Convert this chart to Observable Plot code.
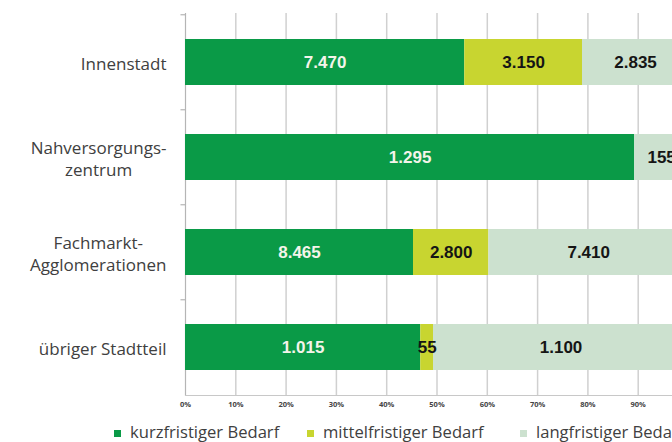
<!DOCTYPE html>
<html>
<head>
<meta charset="utf-8">
<script src="https://cdn.jsdelivr.net/npm/d3@7"></script>
<script src="https://cdn.jsdelivr.net/npm/@observablehq/plot@0.6"></script>
<style>
  html, body { margin: 0; padding: 0; background: #fff; overflow: hidden; }
  #wrap { position: relative; width: 720px; height: 442px; }
  #legend { position: absolute; top: 421px; left: 0; width: 720px; height: 22px;
            font-family: "Open Sans", "Noto Sans", sans-serif; font-size: 16.6px; color: #404040; }
  .item { position: absolute; top: 0; white-space: nowrap; line-height: 22px; }
  .sw { display: inline-block; width: 7px; height: 7px; margin-right: 9px; vertical-align: 1px; }
</style>
</head>
<body>
<div id="wrap"><div id="chart"></div><div id="legend"></div></div>
<script>
const categories = ["Innenstadt", "Nahversorgungs-\nzentrum", "Fachmarkt-\nAgglomerationen", "übriger Stadtteil"];
const series = ["kurzfristiger Bedarf", "mittelfristiger Bedarf", "langfristiger Bedarf"];
const kurzfristig = [7470, 1295, 8465, 1015];
const mittelfristig = [3150, 0, 2800, 55];
const langfristig = [2835, 155, 7410, 1100];
const colors = ["#0a9a47", "#c8d530", "#cce1cf"];
const xTicks = [0, 0.1, 0.2, 0.3, 0.4, 0.5, 0.6, 0.7, 0.8, 0.9];
const xTickLabels = ["0%", "10%", "20%", "30%", "40%", "50%", "60%", "70%", "80%", "90%"];
const gridTicks = [0.1, 0.2, 0.3, 0.4, 0.5, 0.6, 0.7, 0.8, 0.9, 1.0];

const valuesBySeries = [kurzfristig, mittelfristig, langfristig];
const data = [];
categories.forEach((c, i) => series.forEach((s, j) => data.push({cat: c, series: s, value: valuesBySeries[j][i]})));

const de = d3.formatLocale({decimal: ",", thousands: ".", grouping: [3], currency: ["", " €"]});
const fmt = de.format(",");

const stackOpts = (extra) => Plot.stackX({x: "value", y: "cat", z: "series", offset: "normalize", order: series, ...extra});

const chart = Plot.plot({
  width: 700,
  height: 415,
  marginLeft: 185,
  marginRight: 12,
  marginTop: 13,
  marginBottom: 20,
  style: {fontFamily: "Open Sans, Noto Sans, sans-serif", background: "#fff", maxWidth: "none"},
  x: {domain: [0, 1]},
  y: {domain: categories, paddingInner: 0.52, paddingOuter: 0.26},
  color: {domain: series, range: colors},
  marks: [
    Plot.gridX(gridTicks, {stroke: "#d0d0d0", strokeOpacity: 1, strokeWidth: 1.5}),
    Plot.ruleX([0], {stroke: "#b5b5b5", strokeWidth: 1.2}),
    Plot.frame({anchor: "bottom", stroke: "#c8c8c8", strokeWidth: 1.2}),
    Plot.ruleY(categories, {y: d => d, x1: -0.009, x2: 0, dy: -47.75, stroke: "#b5b5b5", strokeWidth: 1.2, clip: false}),
    Plot.barX(data, stackOpts({fill: "series"})),
    Plot.text(data, stackOpts({
      text: d => (d.series === series[0] && d.value > 0) ? fmt(d.value) : "",
      fill: "#f4f4ea", fontSize: 17, fontWeight: "bold",
      fontFamily: "Liberation Sans, Arial, sans-serif"})),
    Plot.text(data, stackOpts({
      text: d => (d.series !== series[0] && d.value > 0) ? fmt(d.value) : "",
      fill: "#151515", fontSize: 17, fontWeight: "bold",
      fontFamily: "Liberation Sans, Arial, sans-serif"})),
    Plot.axisX(xTicks, {tickSize: 0, tickPadding: 6, tickFormat: d => xTickLabels[xTicks.indexOf(d)],
      fontSize: 7.5, fontWeight: "bold", fill: "#444", label: null}),
    Plot.axisY({tickSize: 0, tickPadding: 19, fontSize: 17, fill: "#404040", label: null, lineHeight: 1.3})
  ]
});
document.getElementById("chart").appendChild(chart);

// center the lines of each category label within its right-aligned block
d3.select(chart).selectAll("text").each(function() {
  const tsp = Array.from(this.querySelectorAll("tspan"));
  const s = tsp.length ? tsp.map(t => t.textContent).join("\n") : this.textContent;
  if (!categories.includes(s)) return;
  const w = this.getBBox().width;
  this.setAttribute("text-anchor", "middle");
  if (tsp.length) {
    tsp.forEach(t => { t.setAttribute("text-anchor", "middle"); t.setAttribute("x", -w / 2); });
  } else {
    this.setAttribute("x", (+this.getAttribute("x") || 0) - w / 2);
  }
});

const lefts = [114, 307, 520];
const legend = d3.select("#legend");
series.forEach((s, i) => {
  const it = legend.append("div").attr("class", "item").style("left", lefts[i] + "px");
  it.append("span").attr("class", "sw").style("background", colors[i]);
  it.append("span").text(s);
});
</script>
</body>
</html>
